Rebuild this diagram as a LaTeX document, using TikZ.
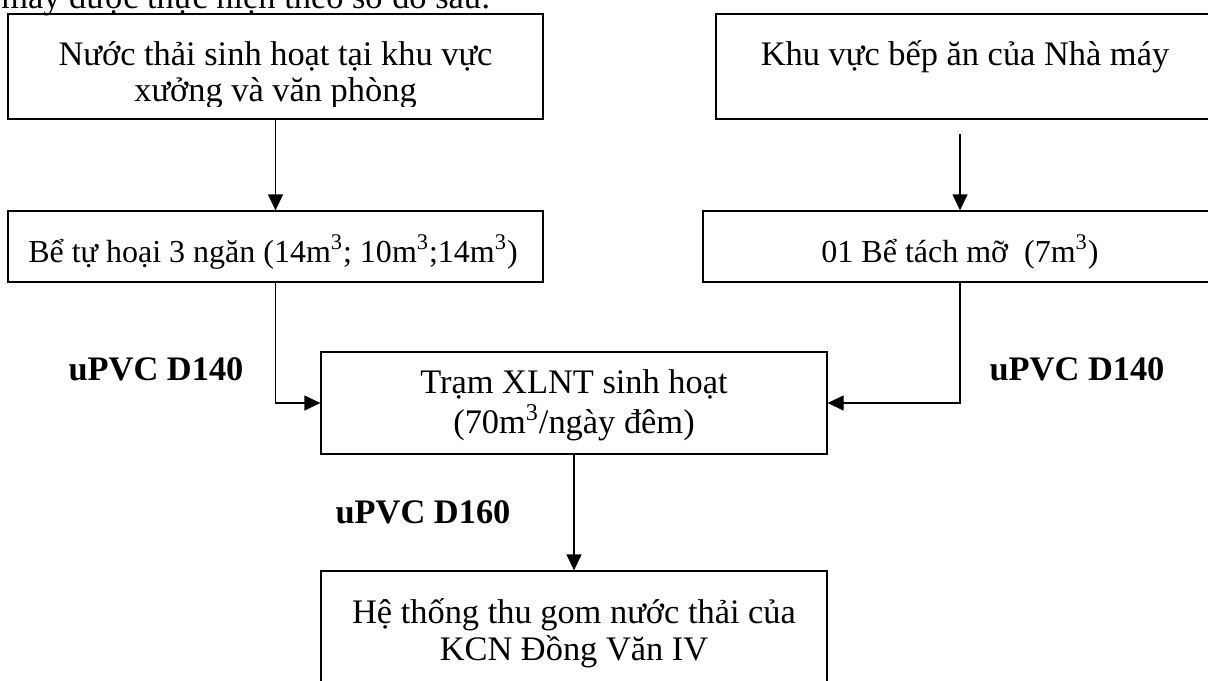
\documentclass[tikz,border=0pt]{standalone}
\usepackage{fontspec}
\setmainfont{Liberation Serif}
\usetikzlibrary{arrows.meta,fit}

\begin{document}
\begin{tikzpicture}[x=0.5pt,y=-0.5pt,
  txt/.style={anchor=base,inner sep=0pt,font=\fontsize{17.2pt}{19pt}\selectfont},
  smalltxt/.style={txt,font=\fontsize{16pt}{18pt}\selectfont},
  lbl/.style={txt,font=\fontsize{17.2pt}{19pt}\selectfont\bfseries},
  thickbox/.style={draw,line width=1pt,inner sep=0pt},
  thinbox/.style={draw,line width=0.65pt,inner sep=0pt},
  arr/.style={line width=0.65pt,-{Triangle[length=8pt,width=7.5pt]}}]

% page frame
\clip (0,0) rectangle (1208,680);

% boxes
\node[thickbox,fit={(8,14) (543,119)}] (b1) {};
\node[thickbox,fit={(716,14) (1218,119)}] (b4) {};
\node[thinbox,fit={(8,211) (543,282)}] (b2) {};
\node[thinbox,fit={(703,211) (1217,282)}] (b3) {};
\node[thinbox,fit={(321,352) (827,454)}] (b5) {};
\node[thinbox,fit={(321,571) (827,700)}] (b6) {};

% leading sentence
\node[txt,anchor=base west] (intro) at (1,9) {máy được thực hiện theo sơ đồ sau:};

% box texts
\node[txt] (t1a) at (275.5,65) {Nước thải sinh hoạt tại khu vực};
\begin{scope}
  \clip (8,14) rectangle (543,106);
  \node[txt] (t1b) at (275.5,101) {xưởng và văn phòng};
\end{scope}
\node[txt] (t4) at (965,65) {Khu vực bếp ăn của Nhà máy};
\node[smalltxt] (t2) at (273,262) {Bể tự hoại 3 ngăn (14m\textsuperscript{3}; 10m\textsuperscript{3};14m\textsuperscript{3})};
\node[smalltxt] (t3) at (960,262) {01 Bể tách mỡ~ (7m\textsuperscript{3})};
\node[txt] (t5a) at (574,393) {Trạm XLNT sinh hoạt};
\node[txt] (t5b) at (574,433) {(70m\textsuperscript{3}/ngày đêm)};
\node[txt] (t6a) at (574,623) {Hệ thống thu gom nước thải của};
\node[txt] (t6b) at (574,660) {KCN Đồng Văn IV};

% pipe labels
\node[lbl] (p1) at (156,380) {uPVC D140};
\node[lbl] (p2) at (1077,380) {uPVC D140};
\node[lbl] (p3) at (423,523) {uPVC D160};

% connectors
\coordinate (k) at (960,134);
\draw[arr] (b1.south) -- (b2.north);
\draw[arr] (k) -- (k |- b3.north);
\draw[arr] (b2.south) |- (b5.west);
\draw[arr] (b3.south) |- (b5.east);
\draw[arr] (b5.south) -- (b6.north);
\end{tikzpicture}
\end{document}
